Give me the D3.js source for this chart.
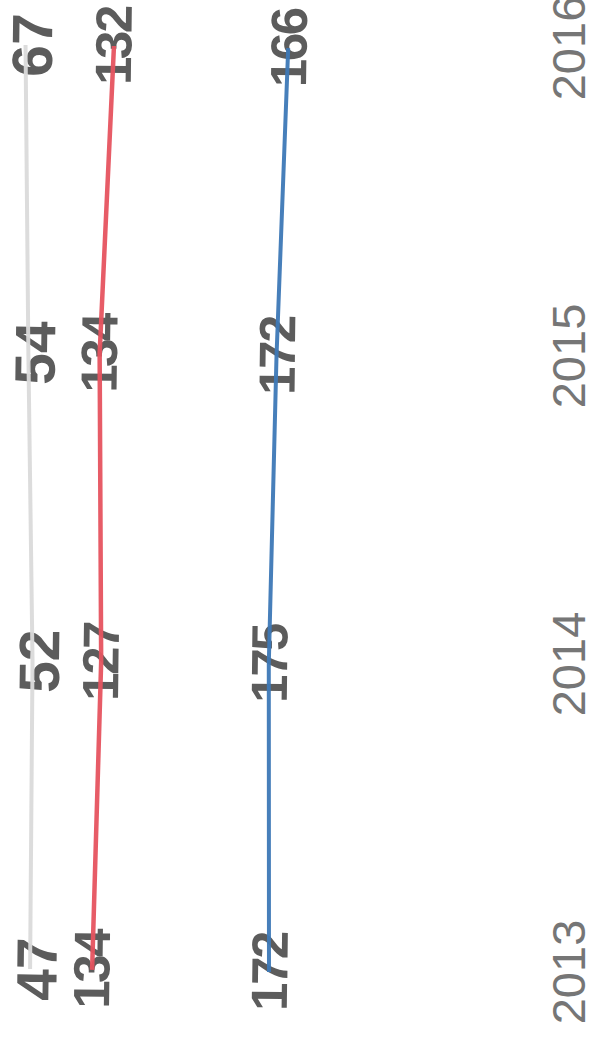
<!DOCTYPE html>
<html><head><meta charset="utf-8">
<script src="https://cdn.jsdelivr.net/npm/d3@7"></script>
<style>html,body{margin:0;padding:0;background:#fff;}svg{display:block;}</style>
</head><body>
<script>
const years = ["2013", "2014", "2015", "2016"];
const seriesBlue = [172, 175, 172, 166];
const seriesRed = [134, 127, 134, 132];
const seriesGrey = [47, 52, 54, 67];
const keys = ["blue", "red", "grey"];

const W = 595, H = 1038;
const colors = {blue: "#3d78b6", red: "#e6535f", grey: "#dadada"};
const widths = {blue: 4, red: 4.5, grey: 4};

const rows = years.map((y, i) => ({year: y, blue: seriesBlue[i], red: seriesRed[i], grey: seriesGrey[i]}));
const stacked = d3.stack().keys(keys)(rows);

const svg = d3.select("body").append("svg").attr("width", W).attr("height", H);
svg.append("rect").attr("width", W).attr("height", H).attr("fill", "#fff");

const x = d3.scalePoint().domain(years).range([66, 990]);
const y = d3.scaleLinear().domain([0, 400]).range([496, -32]);

// category labels (chart rotated 90° counter-clockwise)
const gAxis = svg.append("g").attr("transform", `translate(0,${H}) rotate(-90)`);
gAxis.selectAll("text.year").data(years).join("text")
  .attr("class", "year")
  .attr("x", d => x(d)).attr("y", 585)
  .attr("text-anchor", "middle")
  .attr("font-family", "Liberation Sans, Arial, sans-serif")
  .attr("font-size", 47)
  .attr("fill", "#767676")
  .text(d => d);

// plot area: slight tilt from the scan
const outer = svg.append("g").attr("transform", "rotate(0.7,271,974)");
const g = outer.append("g").attr("transform", `translate(0,${H}) rotate(-90)`);

// data labels
const labelSize = {blue: 51, red: 51, grey: 57};
const labelShift = {blue: 0, red: -1, grey: 6};
stacked.forEach(s => {
  g.append("g").selectAll("text").data(s).join("text")
    .attr("x", d => x(d.data.year))
    .attr("y", d => y(d[1]) + labelShift[s.key])
    .attr("dy", "0.36em")
    .attr("text-anchor", "middle")
    .attr("font-family", "Liberation Sans, Arial, sans-serif")
    .attr("font-weight", "bold")
    .attr("font-size", labelSize[s.key])
    .attr("letter-spacing", s.key === "grey" ? 0 : -2.5)
    .attr("fill", "#5c5c5c")
    .text(d => d.data[s.key]);
});

// lines (drawn over labels, as in the scan)
const line = d3.line().x(d => x(d.data.year)).y(d => y(d[1]));
stacked.forEach(s => {
  g.append("path").datum(s)
    .attr("d", line)
    .attr("fill", "none")
    .attr("stroke", colors[s.key])
    .attr("stroke-width", widths[s.key])
    .attr("opacity", 0.95);
});
</script>
</body></html>
